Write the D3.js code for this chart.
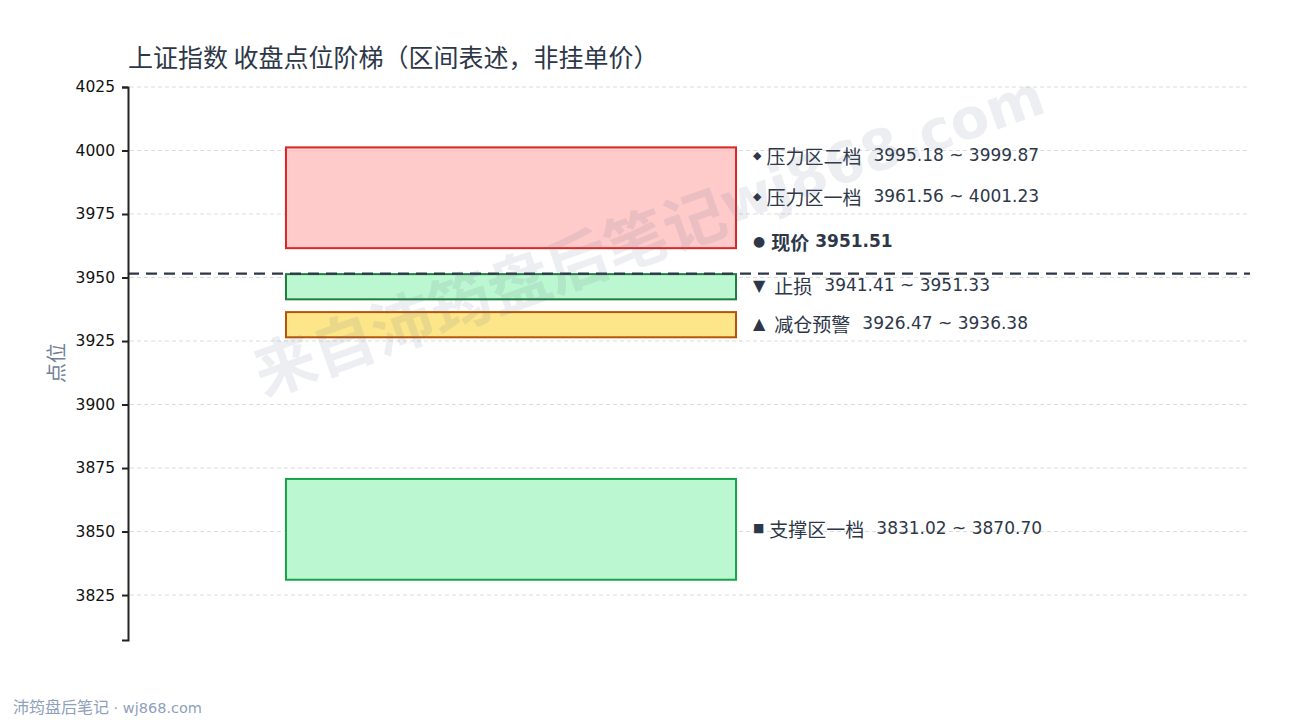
<!DOCTYPE html>
<html>
<head>
<meta charset="utf-8">
<script src="https://cdn.jsdelivr.net/npm/d3@7"></script>
<style>
  body { margin: 0; background: #fff; }
  text { font-family: "Noto Sans CJK SC", "Noto Sans", sans-serif; }
  .lat { font-family: "DejaVu Sans", sans-serif; }
</style>
</head>
<body>
<div id="plot"></div>
<script>
// zones (lower, upper), drawn bottom to top in this order
var zoneNames = ["压力区二档", "压力区一档", "止损", "减仓预警", "支撑区一档"];
var zoneLow   = [3995.18, 3961.56, 3941.41, 3926.47, 3831.02];
var zoneHigh  = [3999.87, 4001.23, 3951.33, 3936.38, 3870.70];
var zoneMark  = ["◆", "◆", "▼", "▲", "■"];
var zoneKind  = ["press", "press", "stop", "warn", "support"];
var currentPrice = 3951.51;
var yTicks = [3825, 3850, 3875, 3900, 3925, 3950, 3975, 4000, 4025];
var yDomain = [3807.3, 4025];

var colors = {
  press:   {fill: "#fecaca", stroke: "#dc2626"},
  stop:    {fill: "#bbf7d0", stroke: "#1e7e3e"},
  warn:    {fill: "#fde68a", stroke: "#b45309"},
  support: {fill: "#bbf7d0", stroke: "#16a34a"}
};
var markSize = {"◆": 11, "▼": 16, "▲": 16, "■": 12, "●": 14};

var W = 1290, H = 720;
var margin = {top: 87, right: 40, bottom: 80, left: 128},
    width = W - margin.left - margin.right,
    height = H - margin.top - margin.bottom;

var svg = d3.select("#plot")
  .append("svg")
    .attr("width", W)
    .attr("height", H);

var g = svg.append("g")
    .attr("transform", "translate(" + margin.left + "," + margin.top + ")");

var y = d3.scaleLinear().domain(yDomain).range([height, 0]);
var x = d3.scaleLinear().domain([0, 1]).range([0, width]);

// grid
g.selectAll("line.grid")
  .data(yTicks)
  .enter()
  .append("line")
    .attr("class", "grid")
    .attr("x1", 2).attr("x2", width)
    .attr("y1", function(d) { return y(d); })
    .attr("y2", function(d) { return y(d); })
    .style("stroke", "#dcdcdc")
    .style("stroke-dasharray", "4,3")
    .style("stroke-width", 1);

// watermark
var wm = svg.append("text")
  .attr("transform", "translate(648,232) rotate(-19.5)")
  .attr("text-anchor", "middle")
  .attr("dominant-baseline", "central")
  .style("font-weight", "bold")
  .style("fill", "rgba(100,116,139,0.12)");
wm.append("tspan").style("font-size", "62px").text("来自沛筠盘后笔记");
wm.append("tspan").attr("class", "lat").style("font-size", "56px").text("wj868.com");

// zone boxes
var data = zoneNames.map(function(n, i) {
  return {name: n, lo: zoneLow[i], hi: zoneHigh[i], mark: zoneMark[i], kind: zoneKind[i]};
});

g.selectAll("rect.zone")
  .data(data)
  .enter()
  .append("rect")
    .attr("class", "zone")
    .attr("x", x(0.1408))
    .attr("width", x(0.5419) - x(0.1408))
    .attr("y", function(d) { return y(d.hi); })
    .attr("height", function(d) { return y(d.lo) - y(d.hi); })
    .style("fill", function(d) { return colors[d.kind].fill; })
    .style("stroke", function(d) { return colors[d.kind].stroke; })
    .style("stroke-width", 2);

// current price line
g.append("line")
  .attr("x1", 0).attr("x2", width)
  .attr("y1", y(currentPrice)).attr("y2", y(currentPrice))
  .style("stroke", "#2d3748")
  .style("stroke-width", 2.2)
  .style("stroke-dasharray", "11,7");

// labels
var lx = x(0.5419) + 17;
var labels = g.selectAll("text.zlabel")
  .data(data)
  .enter()
  .append("text")
    .attr("class", "zlabel")
    .attr("x", lx)
    .attr("y", function(d) { return y((d.lo + d.hi) / 2) - 1.5; })
    .attr("dominant-baseline", "central")
    .style("fill", "#2d3748");
labels.append("tspan").attr("class", "lat")
  .style("font-size", function(d) { return markSize[d.mark] + "px"; })
  .text(function(d) { return d.mark; });
labels.append("tspan")
  .attr("dx", function(d) { return d.mark == "◆" || d.mark == "■" ? 5 : 9; })
  .style("font-size", "19px")
  .text(function(d) { return d.name; });
labels.append("tspan").attr("class", "lat")
  .attr("dx", 12)
  .style("font-size", "17px")
  .text(function(d) { return d.lo.toFixed(2) + " ~ " + d.hi.toFixed(2); });

var cur = g.append("text")
  .attr("x", lx)
  .attr("y", y(currentPrice) - 33)
  .attr("dominant-baseline", "central")
  .style("font-weight", "bold")
  .style("fill", "#2d3748");
cur.append("tspan").attr("class", "lat").style("font-size", markSize["●"] + "px").text("●");
cur.append("tspan").attr("dx", 6).style("font-size", "19px").text("现价");
cur.append("tspan").attr("class", "lat").attr("dx", 6).style("font-size", "17px").text(currentPrice.toFixed(2));

// axis
var yAxis = g.append("g")
  .call(d3.axisLeft(y).tickValues(yTicks).tickFormat(d3.format("d"))
    .tickSizeOuter(0).tickSize(6).tickPadding(7));
yAxis.select(".domain").style("stroke", "#222").style("stroke-width", 2);
yAxis.selectAll(".tick line").style("stroke", "#222").style("stroke-width", 2);
yAxis.selectAll(".tick text")
  .style("font-size", "15.5px")
  .style("fill", "#111")
  .style("font-family", "'DejaVu Sans', sans-serif");

// axis title
svg.append("text")
  .attr("transform", "translate(55,363) rotate(-90)")
  .attr("text-anchor", "middle")
  .attr("dominant-baseline", "central")
  .style("font-size", "20px")
  .style("fill", "#718096")
  .text("点位");

// title
svg.append("text")
  .attr("x", 128)
  .attr("y", 67)
  .style("font-size", "25px")
  .style("fill", "#2d3748")
  .text("上证指数 收盘点位阶梯（区间表述，非挂单价）");

// footer
var ft = svg.append("text")
  .attr("x", 13)
  .attr("y", 713)
  .style("fill", "#8fa0bd");
ft.append("tspan").style("font-size", "16px").text("沛筠盘后笔记");
ft.append("tspan").attr("class", "lat").style("font-size", "14.5px").text(" · wj868.com");
</script>
</body>
</html>
